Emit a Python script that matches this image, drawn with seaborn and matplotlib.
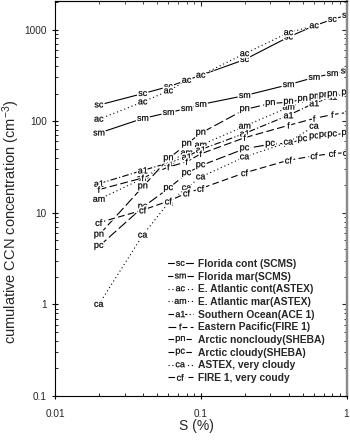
import numpy as np
import pandas as pd
import matplotlib
matplotlib.use("Agg")
import matplotlib.pyplot as plt
import seaborn as sns
from matplotlib import patheffects as pe
from matplotlib.textpath import TextPath
from matplotlib.ticker import FixedLocator, LogLocator, FuncFormatter, NullFormatter

sns.set_style("ticks")
plt.rcParams["font.family"] = ["Liberation Sans", "DejaVu Sans"]
plt.rcParams["mathtext.fontset"] = "custom"
plt.rcParams["mathtext.rm"] = "Liberation Sans"
plt.rcParams["mathtext.default"] = "rm"

# ---- cumulative CCN spectra, N (cm^-3) vs supersaturation S (%) ----
names = [
    "Florida cont (SCMS)",
    "Florida mar(SCMS)",
    "E. Atlantic cont(ASTEX)",
    "E. Atlantic mar(ASTEX)",
    "Southern Ocean(ACE 1)",
    "Eastern Pacific(FIRE 1)",
    "Arctic noncloudy(SHEBA)",
    "Arctic cloudy(SHEBA)",
    "ASTEX, very cloudy",
    "FIRE 1, very coudy",
]
codes = ["sc", "sm", "ac", "am", "a1", "f", "pn", "pc", "ca", "cf"]

S_std = [0.02, 0.04, 0.06, 0.08, 0.1, 0.2, 0.4, 0.6, 0.8, 1.0]
S_sheba = [0.02, 0.04, 0.06, 0.08, 0.1, 0.2, 0.3, 0.4, 0.5, 0.6, 0.7, 0.8, 1.0]
S_astex = [0.02, 0.04, 0.06, 0.08, 0.1, 0.2, 0.4, 0.6]

sc_N = [150, 200, 238, 279, 317, 470, 828, 1100, 1290, 1430]
sm_N = [74, 107, 124, 137, 152, 190, 250, 300, 330, 352]
ac_N = [105, 162, 214, 279, 317, 545, 925, 1100]
am_N = [14, 23.7, 36, 45, 54.7, 88, 142, 178]
a1_N = [20.8, 29, 35, 41, 49, 73.5, 116, 157, 185, 199]
f_N = [17.9, 24, 31.6, 36, 44, 66, 90, 107, 118, 124]
pn_N = [5.7, 19.2, 39, 56, 74, 134, 156, 161, 173, 183, 190, 195, 203]
pc_N = [4.3, 11.5, 18.4, 26.8, 32.7, 50, 56, 57.5, 63, 67.5, 70, 71, 73.6]
ca_N = [1.0, 5.7, 12.8, 18.7, 24.6, 40.7, 59, 88]
cf_N = [7.8, 10.7, 13.4, 16.4, 18.4, 27.3, 37.5, 41.8, 44.3, 45.3]

S_lists = [S_std, S_std, S_astex, S_astex, S_std, S_std, S_sheba, S_sheba, S_astex, S_std]
N_lists = [sc_N, sm_N, ac_N, am_N, a1_N, f_N, pn_N, pc_N, ca_N, cf_N]

dash_styles = ["", "", (1, 2.5), (1, 2.5), (6, 2, 1, 2), (7, 3), (9, 3), (9, 3), (1, 2.5), (6, 3)]

rows = []
for name, S, N in zip(names, S_lists, N_lists):
    for s, n in zip(S, N):
        rows.append({"S": s, "N": n, "series": name})
df = pd.DataFrame(rows)

marker_of = {name: f"$\\mathrm{{{code}}}$" for name, code in zip(names, codes)}
dashes = dict(zip(names, dash_styles))

fig = plt.figure(figsize=(3.5, 4.45), dpi=100)
ax = fig.add_axes([55 / 350, 1 - 396 / 445, 291.5 / 350, 395 / 445])

sns.lineplot(
    data=df, x="S", y="N", hue="series", style="series",
    hue_order=names, style_order=names,
    palette={n: "black" for n in names},
    markers=marker_of, dashes=dashes,
    estimator=None, errorbar=None, linewidth=0.8,
    mec="black", mew=0.15, legend=False, ax=ax,
)

# text markers: equal glyph size for every label, with a white halo
EM = 6.2
code_of_marker = {m: c for m, c in zip(marker_of.values(), codes)}
line_of_code = {}
for line in ax.lines:
    m = line.get_marker()
    if m not in code_of_marker:
        continue
    v = TextPath((0, 0), m, size=1).vertices
    ext = v.max(axis=0) - v.min(axis=0)
    line.set_markersize(EM * ext.max())
    line.set_path_effects([pe.withStroke(linewidth=2.4, foreground="white")])
    line_of_code[code_of_marker[m]] = line

ax.set_xscale("log")
ax.set_yscale("log")
ax.set_xlim(0.01, 1)
ax.set_ylim(0.1, 2050)

fmt = FuncFormatter(lambda v, p: f"{v:g}")
ax.xaxis.set_major_locator(FixedLocator([0.01, 0.1, 1]))
ax.yaxis.set_major_locator(FixedLocator([0.1, 1, 10, 100, 1000]))
ax.xaxis.set_major_formatter(fmt)
ax.yaxis.set_major_formatter(fmt)
for axis in (ax.xaxis, ax.yaxis):
    axis.set_minor_locator(LogLocator(base=10, subs=np.arange(2, 10)))
    axis.set_minor_formatter(NullFormatter())
ax.tick_params(which="major", direction="inout", length=5, width=0.8,
               labelsize=7.2, color="black")
ax.tick_params(axis="y", which="major", pad=3.5)
ax.tick_params(axis="x", which="major", pad=7)
ax.tick_params(which="minor", direction="in", length=2.5, width=0.6, color="black")

secx = ax.secondary_xaxis("top")
secy = ax.secondary_yaxis("right")
for sec, axis in ((secx, secx.xaxis), (secy, secy.yaxis)):
    axis.set_major_locator(FixedLocator([0.01, 0.1, 1] if sec is secx else [0.1, 1, 10, 100, 1000]))
    axis.set_minor_locator(LogLocator(base=10, subs=np.arange(2, 10)))
    axis.set_major_formatter(NullFormatter())
    axis.set_minor_formatter(NullFormatter())
    sec.tick_params(which="major", direction="in", length=3.5, width=0.8)
    sec.tick_params(which="minor", direction="in", length=2.2, width=0.6)

for s in ax.spines.values():
    s.set_linewidth(0.8)
    s.set_color("black")
for sp in (ax.spines["right"], secy.spines["right"]):
    sp.set_linewidth(1.6)
    sp.set_color("#8a8a8a")
secx.spines["top"].set_linewidth(0.8)

ax.set_xlabel("S (%)", fontsize=10)
ax.set_ylabel("cumulative CCN concentration (cm$^{-3}$)", fontsize=10.5)
ax.xaxis.set_label_coords((196 - 55) / 291.5, -(419 - 396) / 395)
ax.yaxis.set_label_coords(-(55 - 22) / 291.5, (396 - 222) / 395)

handles = [line_of_code[c] for c in codes]
ax.legend(
    handles, names, loc="upper left",
    bbox_to_anchor=(168 / 350, 1 - 259 / 445), bbox_transform=fig.transFigure,
    frameon=False, prop={"family": "Liberation Sans", "weight": "bold", "size": 7.4},
    handlelength=2.4, handletextpad=0.5, labelspacing=0.26,
    borderpad=0, borderaxespad=0,
)

fig.savefig("out.png", dpi=100)
